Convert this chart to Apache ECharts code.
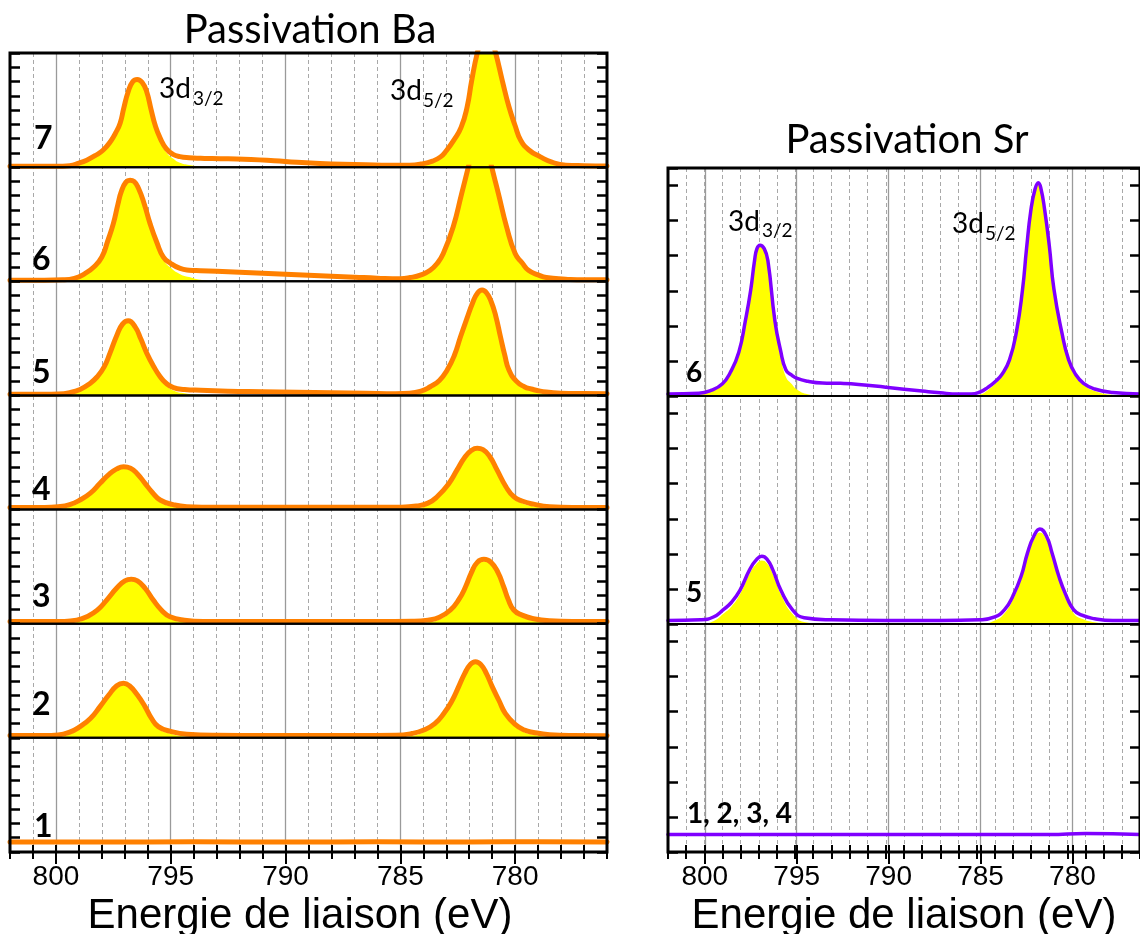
<!DOCTYPE html>
<html><head><meta charset="utf-8">
<script src="https://cdn.jsdelivr.net/npm/echarts@6/dist/echarts.min.js"></script>
<style>html,body{margin:0;padding:0;background:#fff}#c{width:1140px;height:934px}</style>
</head><body><div id="c"></div>
<script>
// ---------- DATA ----------
// x range of both panels (binding energy, eV) and labelled ticks
const energyRange = [776, 802];
const majorTicks = [780, 785, 790, 795, 800];
const titles = ['Passivation Ba', 'Passivation Sr'];
const axisName = 'Energie de liaison (eV)';
const baLabels = ['7', '6', '5', '4', '3', '2', '1'];
const srLabels = ['6', '5', '1, 2, 3, 4'];

// each point: [energy, measured envelope, fitted 3d components]
const ba7 = [[776,0.08,0],[777,0.1,0],[777.8,0.14,0],[778.4,0.35,0.25],[778.9,0.72,0.6],[779.4,1.2,1.1],[779.76,1.89,1.8],[780.0,2.9,2.8],[780.27,4.23,4.15],[780.55,6.0,5.9],[780.85,8.0,7.9],[781.05,9.0,8.9],[781.25,9.4,9.3],[781.45,9.0,8.9],[781.65,8.0,7.9],[781.9,6.0,5.9],[782.09,4.23,4.15],[782.35,2.8,2.7],[782.67,1.89,1.8],[783.0,1.15,1.05],[783.25,0.72,0.6],[783.6,0.42,0.3],[784.1,0.22,0.1],[784.6,0.14,0],[785.5,0.13,0],[786.5,0.16,0],[787.5,0.2,0],[788.5,0.26,0],[789.5,0.34,0],[790.5,0.45,0],[791.5,0.54,0],[792.5,0.58,0],[793.2,0.6,0],[793.7,0.62,0.05],[794.2,0.66,0.15],[794.6,0.74,0.3],[794.9,0.9,0.6],[795.2,1.3,1.05],[795.45,2.0,1.8],[795.68,2.95,2.78],[795.85,4.0,3.85],[796.05,5.3,5.2],[796.25,5.95,5.85],[796.46,6.15,6.05],[796.65,6.0,5.9],[796.85,5.3,5.2],[797.05,4.1,4.0],[797.2,3.1,3.02],[797.4,2.4,2.32],[797.6,1.85,1.78],[797.94,1.2,1.13],[798.3,0.8,0.74],[798.66,0.49,0.43],[799.0,0.28,0.22],[799.4,0.1,0.05],[800,0.06,0],[802,0.06,0]];
const ba6 = [[776,0.1,0],[777,0.1,0],[777.8,0.15,0.03],[778.64,0.26,0.16],[779.0,0.45,0.35],[779.42,0.77,0.67],[779.7,1.3,1.2],[780.0,1.94,1.84],[780.37,3.8,3.7],[780.73,6.15,6.05],[781.02,8.0,7.9],[781.25,9.6,9.5],[781.53,10.6,10.5],[781.8,9.6,9.5],[782.04,8.0,7.9],[782.33,6.15,6.05],[782.7,3.8,3.7],[783.13,1.94,1.84],[783.4,1.25,1.15],[783.7,0.77,0.67],[784.1,0.45,0.33],[784.57,0.26,0.12],[785,0.18,0],[786,0.22,0],[787,0.29,0],[788,0.36,0],[789,0.43,0],[790,0.5,0],[791,0.57,0],[792,0.64,0],[793,0.7,0],[793.7,0.74,0.1],[794.2,0.78,0.3],[794.59,0.9,0.5],[795.0,1.25,0.95],[795.32,1.7,1.5],[795.6,2.7,2.5],[795.9,4.04,3.85],[796.15,5.4,5.25],[796.4,6.5,6.4],[796.6,7.0,6.9],[796.77,7.08,6.98],[796.95,6.95,6.85],[797.15,6.3,6.2],[797.3,5.4,5.3],[797.5,4.04,3.95],[797.75,2.8,2.75],[798.0,1.7,1.65],[798.35,1.0,0.95],[798.74,0.54,0.5],[799.2,0.2,0.15],[799.7,0.1,0],[800.5,0.08,0],[802,0.08,0]];
const ba5 = [[776,0.12,0],[777,0.13,0],[778,0.15,0],[778.9,0.3,0.15],[779.3,0.45,0.32],[779.6,0.61,0.5],[779.95,1.0,0.9],[780.27,1.78,1.68],[780.45,2.8,2.7],[780.64,4.11,4.0],[780.85,5.6,5.5],[781.05,6.6,6.5],[781.25,7.2,7.1],[781.44,7.39,7.28],[781.65,7.15,7.05],[781.85,6.5,6.4],[782.1,5.4,5.3],[782.38,4.11,4.0],[782.65,2.8,2.7],[782.96,1.78,1.68],[783.3,1.05,0.95],[783.7,0.61,0.5],[784.1,0.3,0.18],[784.6,0.15,0.05],[785.2,0.12,0],[786.5,0.15,0],[788,0.19,0],[789.5,0.22,0],[791,0.26,0],[792.5,0.3,0],[793.7,0.36,0.05],[794.4,0.42,0.15],[794.88,0.55,0.35],[795.2,0.85,0.7],[795.46,1.31,1.2],[795.75,2.05,1.95],[796.04,2.95,2.85],[796.3,3.95,3.85],[796.55,4.8,4.7],[796.85,5.23,5.13],[797.1,5.0,4.9],[797.35,4.2,4.1],[797.65,2.95,2.88],[797.9,2.0,1.95],[798.2,1.31,1.25],[798.55,0.8,0.75],[798.95,0.42,0.38],[799.4,0.2,0.15],[799.9,0.1,0],[800.5,0.08,0],[802,0.08,0]];
const ba4 = [[776,0.15,0],[777.5,0.15,0],[778.5,0.2,0.05],[779.2,0.38,0.23],[779.7,0.6,0.45],[780.06,0.9,0.75],[780.4,1.6,1.45],[780.79,2.78,2.63],[781.1,3.7,3.55],[781.4,4.2,4.05],[781.65,4.3,4.15],[781.9,4.15,4.0],[782.2,3.65,3.5],[782.53,2.78,2.63],[782.9,1.8,1.65],[783.4,0.9,0.75],[783.8,0.45,0.3],[784.3,0.25,0.08],[785,0.17,0],[787,0.16,0],[789,0.16,0],[791,0.16,0],[793,0.16,0],[794.3,0.2,0.04],[794.9,0.35,0.19],[795.46,0.67,0.51],[795.8,1.2,1.04],[796.12,1.84,1.68],[796.45,2.5,2.34],[796.75,2.9,2.74],[797.05,3.0,2.84],[797.35,2.85,2.69],[797.7,2.45,2.29],[798.08,1.84,1.68],[798.5,1.15,1.0],[798.95,0.67,0.51],[799.4,0.35,0.2],[799.9,0.2,0.04],[800.5,0.15,0],[802,0.15,0]];
const ba3 = [[776,0.15,0],[777.5,0.15,0],[778.5,0.2,0.05],[779.2,0.35,0.2],[779.7,0.6,0.45],[780.06,0.96,0.81],[780.3,1.7,1.55],[780.5,2.59,2.44],[780.75,3.6,3.45],[781.05,4.3,4.15],[781.36,4.51,4.36],[781.65,4.3,4.15],[781.9,3.6,3.45],[782.16,2.59,2.44],[782.45,1.7,1.55],[782.82,0.96,0.81],[783.3,0.45,0.3],[783.8,0.25,0.1],[784.5,0.17,0],[786,0.15,0],[788,0.15,0],[790,0.15,0],[792,0.15,0],[793.5,0.16,0],[794.4,0.25,0.1],[795.03,0.49,0.34],[795.4,0.95,0.8],[795.76,1.66,1.51],[796.1,2.45,2.3],[796.45,3.0,2.85],[796.72,3.11,2.96],[797.0,3.0,2.85],[797.35,2.5,2.35],[797.79,1.66,1.51],[798.2,0.95,0.8],[798.66,0.49,0.34],[799.1,0.25,0.1],[799.7,0.16,0],[800.5,0.15,0],[802,0.15,0]];
const ba2 = [[776,0.15,0],[777.5,0.16,0],[778.5,0.22,0.06],[779.2,0.38,0.22],[779.6,0.55,0.4],[780.0,0.95,0.8],[780.43,1.72,1.57],[780.7,2.6,2.45],[781.0,3.59,3.44],[781.25,4.5,4.35],[781.5,5.15,5.0],[781.73,5.34,5.19],[781.95,5.15,5.0],[782.2,4.5,4.35],[782.46,3.59,3.44],[782.75,2.6,2.45],[783.1,1.72,1.57],[783.5,1.0,0.85],[783.98,0.55,0.4],[784.5,0.3,0.13],[785.2,0.18,0],[787,0.16,0],[789,0.16,0],[791,0.17,0],[793,0.18,0],[794.3,0.25,0.08],[795.0,0.45,0.28],[795.54,0.79,0.63],[795.85,1.4,1.25],[796.12,2.19,2.04],[796.45,3.0,2.85],[796.8,3.65,3.5],[797.06,3.83,3.68],[797.35,3.65,3.5],[797.7,3.0,2.85],[798.08,2.19,2.04],[798.5,1.35,1.2],[798.95,0.79,0.63],[799.4,0.4,0.25],[799.9,0.2,0.05],[800.5,0.16,0],[802,0.16,0]];
const ba1 = [[776,0.7,0],[779,0.72,0],[782,0.7,0],[786,0.71,0],[790,0.7,0],[794,0.71,0],[798,0.7,0],[802,0.7,0]];

const sr6 = [[776,0.06,0],[777.5,0.1,0.03],[778.5,0.2,0.14],[779.11,0.36,0.32],[779.55,0.62,0.58],[779.93,1.03,1.0],[780.3,1.8,1.77],[780.74,3.04,3.0],[781.0,4.3,4.27],[781.25,5.3,5.27],[781.45,5.9,5.87],[781.6,6.08,6.05],[781.78,5.9,5.87],[782.01,5.3,5.27],[782.25,4.2,4.17],[782.47,3.04,3.0],[782.8,1.85,1.82],[783.19,1.03,1.0],[783.6,0.62,0.58],[784.0,0.4,0.34],[784.4,0.24,0.16],[784.8,0.12,0.04],[785.3,0.06,0],[786,0.06,0],[787,0.09,0],[788,0.14,0],[790,0.25,0],[791.5,0.33,0],[792.5,0.36,0],[793.5,0.37,0],[794.3,0.42,0.05],[794.88,0.5,0.18],[795.2,0.6,0.35],[795.51,0.75,0.55],[795.8,1.3,1.15],[796.11,2.14,2.05],[796.5,3.87,3.8],[796.7,4.2,4.15],[796.93,4.3,4.25],[797.1,4.2,4.15],[797.23,3.87,3.82],[797.45,3.0,2.96],[797.74,2.14,2.1],[798.1,1.25,1.22],[798.59,0.65,0.62],[799.0,0.35,0.32],[799.59,0.17,0.14],[800.3,0.08,0.04],[802,0.06,0]];
const sr5 = [[776,0.1,0],[777.5,0.1,0],[778.5,0.15,0.05],[779.2,0.25,0.15],[779.66,0.41,0.31],[780.1,0.85,0.75],[780.47,1.36,1.26],[780.84,2.02,1.92],[781.15,2.5,2.4],[781.52,2.71,2.61],[781.85,2.5,2.4],[782.2,2.02,1.92],[782.55,1.36,1.26],[783.0,0.8,0.7],[783.46,0.41,0.31],[784.0,0.2,0.1],[784.8,0.12,0],[787,0.1,0],[790,0.1,0],[793,0.12,0],[794.5,0.18,0.06],[795.15,0.41,0.29],[795.78,0.96,0.84],[796.23,1.55,1.43],[796.55,1.85,1.73],[796.83,1.93,1.81],[797.15,1.82,1.7],[797.5,1.55,1.43],[798.04,0.96,0.84],[798.5,0.62,0.5],[798.95,0.41,0.29],[799.5,0.2,0.08],[800.2,0.12,0],[802,0.1,0]];
const sr1234 = [[776,0.5,0],[779,0.53,0],[781,0.5,0],[785,0.5,0],[790,0.5,0],[795,0.5,0],[800,0.5,0],[802,0.5,0]];

const baPanels = [ba7, ba6, ba5, ba4, ba3, ba2, ba1];
const srPanels = [sr6, sr5, sr1234];

// ---------- LAYOUT / STYLE ----------
const COLS = [
  {x0:10, x1:607, top:53, bottom:852, yMax:8, color:'#FF8000', lw:5, panels:baPanels, labels:baLabels,
   labelPos:[[34,149],[32,270],[32,383],[32,500],[32,607],[32,715],[34,837]], labelFont:'bold 32px Lato', labelSize:32,
   titleX:310, titleY:30, nameX:300},
  {x0:668, x1:1146, top:168, bottom:852, yMax:6.5, color:'#7F00FF', lw:3.5, panels:srPanels, labels:srLabels,
   labelPos:[[686,382],[686,602],[687,823]], labelFont:'bold 28px Lato', labelSize:28,
   titleX:907, titleY:140, nameX:904}
];
const eMin = energyRange[0], eMax = energyRange[1];
const option = {animation:false, backgroundColor:'#fff', grid:[], xAxis:[], yAxis:[], series:[], graphic:[]};

function text(str, x, baseline, size, font, align) {
  option.graphic.push({type:'text', x:x, y:baseline - 0.32*size, z:100,
    style:{text:str, font:font, fill:'#000', textAlign:align || 'left', textVerticalAlign:'middle'}});
}

COLS.forEach(function (col, ci) {
  const w = col.x1 - col.x0, H = col.bottom - col.top, perEv = w / (eMax - eMin);
  const n = col.panels.length, h = H / n;
  col.panels.forEach(function (data, i) {
    const gi = option.grid.length;
    option.grid.push({left:col.x0, top:col.top + i*h, width:w, height:h, show:true, borderColor:'#000',
      borderWidth:2, backgroundColor:'rgba(0,0,0,0)', z:4});
    const xi = option.xAxis.length;
    option.xAxis.push({gridIndex:gi, type:'value', min:eMin, max:eMax, inverse:true, show:false});
    const yi = option.yAxis.length;
    ['left', 'right'].forEach(function (pos) {
      option.yAxis.push({gridIndex:gi, type:'value', min:0, max:col.yMax, interval:1, position:pos,
        axisLine:{show:false}, axisLabel:{show:false}, splitLine:{show:false},
        axisTick:{show:true, inside:true, length:10, lineStyle:{color:'#000', width:2.5}}, z:4});
    });
    option.series.push({type:'line', xAxisIndex:xi, yAxisIndex:yi, data:data.map(function (d) { return [d[0], d[2]]; }),
      smooth:0.5, symbol:'none', silent:true, lineStyle:{width:0, opacity:0},
      areaStyle:{color:'#FFFF00', opacity:1}, z:2});
    option.series.push({type:'line', xAxisIndex:xi, yAxisIndex:yi, data:data.map(function (d) { return [d[0], d[1]]; }),
      smooth:0.5, symbol:'none', silent:true, lineStyle:{width:col.lw, color:col.color, join:'round', cap:'round'}, z:3});
    text(col.labels[i], col.labelPos[i][0], col.labelPos[i][1], col.labelSize, col.labelFont);
  });
  // helper grid: 1 eV minor lines/ticks and outer frame
  let gi = option.grid.length;
  option.grid.push({left:col.x0, top:col.top, width:w, height:H, show:true, borderColor:'#000', borderWidth:3,
    backgroundColor:'rgba(0,0,0,0)', z:5});
  ['top', 'bottom'].forEach(function (pos) {
    option.xAxis.push({gridIndex:gi, type:'value', position:pos, min:eMin, max:eMax, interval:1, inverse:true,
      axisLine:{show:false}, axisLabel:{show:false},
      axisTick:{show:true, inside:true, length:7, lineStyle:{color:'#000', width:2}},
      splitLine:{show:pos === 'top', lineStyle:{color:'#a8a8a8', type:[4,3], width:1}}, z:1});
  });
  option.yAxis.push({gridIndex:gi, type:'value', min:0, max:1, show:false});
  // helper grid: 5 eV major lines, ticks and labels
  const mMin = Math.min.apply(null, majorTicks), mMax = Math.max.apply(null, majorTicks);
  gi = option.grid.length;
  option.grid.push({left:col.x0 + (eMax - mMax)*perEv, top:col.top, width:(mMax - mMin)*perEv, height:H, show:false});
  ['top', 'bottom'].forEach(function (pos) {
    option.xAxis.push({gridIndex:gi, type:'value', position:pos, min:mMin, max:mMax, interval:majorTicks[1] - majorTicks[0],
      inverse:true, axisLine:{show:false},
      axisLabel:{show:pos === 'bottom', fontSize:28, fontFamily:'Liberation Sans', color:'#000', margin:11},
      axisTick:{show:true, inside:true, length:pos === 'top' ? 12 : 7, lineStyle:{color:'#000', width:2}},
      splitLine:{show:pos === 'top', lineStyle:{color:'#9a9a9a', width:1.3}}, z:2});
  });
  option.yAxis.push({gridIndex:gi, type:'value', min:0, max:1, show:false});
  text(titles[ci], col.titleX, col.titleY + 12.8, 40, '40px Lato', 'center');
  text(axisName, col.nameX, 930, 42, '42px "Liberation Sans"', 'center');
});

// 3d peak labels
text('3d', 159, 98, 28, '28px Lato');   text('3/2', 193, 105, 19, '19px Lato');
text('3d', 390, 100, 28, '28px Lato');  text('5/2', 423, 107, 19, '19px Lato');
text('3d', 728, 231, 28, '28px Lato');  text('3/2', 762, 237, 19, '19px Lato');
text('3d', 952, 233, 28, '28px Lato');  text('5/2', 985, 240, 19, '19px Lato');

const chart = echarts.init(document.getElementById('c'), null, {renderer:'canvas'});
chart.setOption(option);
</script>
</body></html>
